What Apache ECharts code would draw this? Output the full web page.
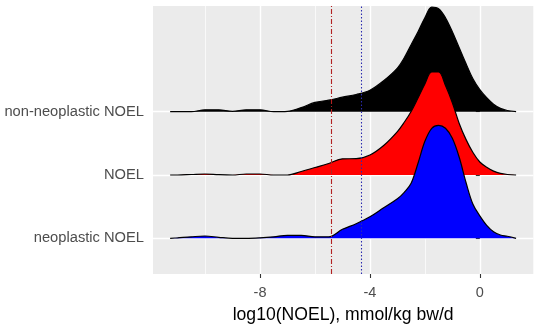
<!DOCTYPE html>
<html>
<head>
<meta charset="utf-8">
<script src="https://cdn.jsdelivr.net/npm/echarts@6/dist/echarts.min.js"></script>
<style>
  html, body { margin: 0; padding: 0; background: #fff; }
  #main { width: 536px; height: 332px; }
</style>
</head>
<body>
<div id="main"></div>
<script>
// groups from bottom row to top row
const groups = ['neoplastic NOEL', 'NOEL', 'non-neoplastic NOEL'];
const fills = ['#0000FF', '#FF0000', '#000000'];

// log10(NOEL) grid the densities were read on
const xs = [-11.27, -11, -10.5, -10, -9.5, -9, -8.5, -8, -7.5, -7, -6.5, -6, -5.5, -5, -4.5, -4,
  -3.5, -3, -2.75, -2.5, -2.25, -2, -1.75, -1.5, -1.25, -1, -0.75, -0.5, -0.25, 0, 0.25, 0.5, 0.75, 1, 1.32];

// ridge heights (in rows) for each group
const neo = [0, 0.008, 0.024, 0.036, 0.016, 0, 0, 0.008, 0.024, 0.047, 0.047, 0.024, 0.024, 0.142, 0.231, 0.34,
  0.482, 0.624, 0.727, 0.869, 1.185, 1.532, 1.738, 1.785, 1.738, 1.58, 1.28, 0.878, 0.537, 0.355, 0.205, 0.104, 0.052, 0.032, 0];
const noel = [0, 0, 0.008, 0.016, 0.005, 0, 0.016, 0.016, 0, 0, 0.055, 0.118, 0.182, 0.256, 0.258, 0.316,
  0.466, 0.686, 0.833, 1.003, 1.216, 1.438, 1.627, 1.627, 1.414, 1.142, 0.815, 0.559, 0.355, 0.205, 0.123, 0.062, 0.025, 0.008, 0];
const nonNeo = [0, 0, 0, 0.03, 0.03, 0.005, 0.03, 0.03, 0, 0.005, 0.065, 0.147, 0.182, 0.229, 0.272, 0.34,
  0.49, 0.689, 0.853, 1.058, 1.264, 1.485, 1.651, 1.627, 1.485, 1.264, 1.011, 0.758, 0.521, 0.348, 0.221, 0.118, 0.052, 0.019, 0];

const xTicks = [-8, -4, 0];
const xMinor = [-10, -6, -2];
const yRows = [1, 2, 3];
// reference lines
const redLine = -5.42;
const blueLine = -4.31;

const chart = echarts.init(document.getElementById('main'));

const textFont = 'Liberation Sans, Arial, sans-serif';
const dens = [neo, noel, nonNeo];

// top ridge first so the lower ones overlap it
const series = [];
for (let i = 2; i >= 0; i--) {
  const row = yRows[i];
  series.push({
    name: groups[i],
    type: 'line',
    data: xs.map((x, j) => [x, row + dens[i][j]]),
    smooth: 0.35,
    symbol: 'none',
    silent: true,
    lineStyle: { color: '#000', width: 1.2 },
    areaStyle: { color: fills[i], opacity: 1, origin: row }
  });
}
// dash-dot red line and dotted blue line, drawn above the ridges
series[2].markLine = {
  symbol: 'none',
  silent: true,
  label: { show: false },
  lineStyle: { color: '#B22222', type: [5, 2, 1, 2], width: 1.1, opacity: 1 },
  data: [{ xAxis: redLine }]
};
series[1].markLine = {
  symbol: 'none',
  silent: true,
  label: { show: false },
  lineStyle: { color: '#2B2BB0', type: [1.5, 2], width: 1.1, opacity: 1 },
  data: [{ xAxis: blueLine }]
};

const option = {
  animation: false,
  grid: {
    left: 153, right: 2.7, top: 6, bottom: 58,
    show: true, backgroundColor: '#EBEBEB', borderWidth: 0,
    outerBoundsMode: 'none'
  },
  xAxis: [
    {
      type: 'value', min: -11.894, max: 1.946,
      axisLine: { show: false },
      axisTick: { show: true, customValues: xTicks, length: 4, lineStyle: { color: '#333', width: 1.1 } },
      axisLabel: { customValues: xTicks, color: '#4D4D4D', fontSize: 14.5, fontFamily: textFont, margin: 11,
        formatter: v => String(v) },
      splitLine: { show: true, lineStyle: { color: '#fff', width: 1.4 } },
      name: 'log10(NOEL), mmol/kg bw/d',
      nameLocation: 'middle',
      nameGap: 32,
      nameTextStyle: { color: '#000', fontSize: 17.6, fontFamily: textFont }
    },
    {
      type: 'value', min: -11.894, max: 1.946, position: 'bottom',
      axisLine: { show: false },
      axisTick: { show: false, customValues: xMinor },
      axisLabel: { show: false },
      splitLine: { show: true, lineStyle: { color: '#fff', width: 0.7 } }
    }
  ],
  yAxis: {
    type: 'value', min: 0.436, max: 4.67,
    axisLine: { show: false },
    axisTick: { show: true, customValues: yRows, length: 4, lineStyle: { color: '#333', width: 1.1 } },
    axisLabel: { customValues: yRows, color: '#4D4D4D', fontSize: 14.7, fontFamily: textFont, margin: 9,
      formatter: v => groups[Math.round(v) - 1] },
    splitLine: { show: true, lineStyle: { color: '#fff', width: 1.4 } }
  },
  series: series
};

chart.setOption(option);
</script>
</body>
</html>
